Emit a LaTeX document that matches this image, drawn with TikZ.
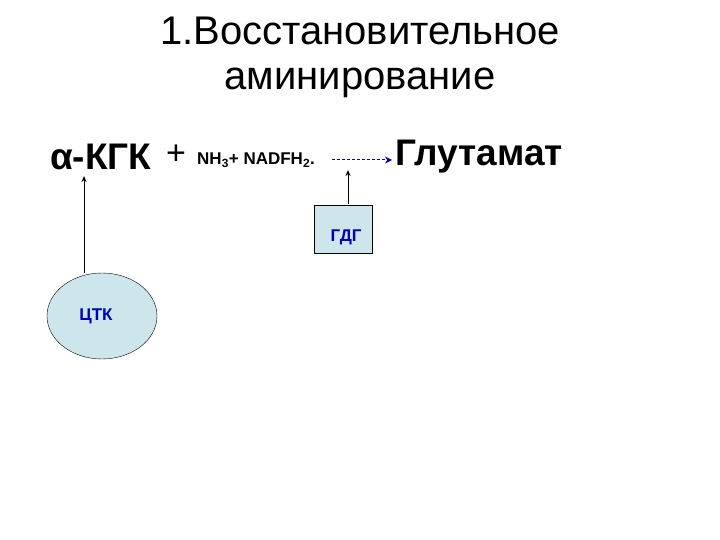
\documentclass[tikz,border=0pt]{standalone}
\usepackage{fontspec}
\setmainfont{Liberation Sans}
\usetikzlibrary{arrows.meta,shapes.geometric}
\definecolor{lb}{RGB}{204,230,236}
\definecolor{dblue}{RGB}{0,0,180}
\begin{document}
\begin{tikzpicture}[x=1pt,y=-1pt,
  big/.style={font=\fontsize{37}{40}\selectfont\bfseries,inner sep=0},
  lbl/.style={font=\fontsize{17}{19}\selectfont\bfseries,text=dblue},
  arr/.style={-{Stealth[length=6pt,width=5pt]},line width=1pt}]
\useasboundingbox (0,0) rectangle (720,540);
\node[font=\fontsize{40}{45}\selectfont,align=center] (t) at (360,57) {1.Восстановительное\\аминирование};
\node[big,anchor=west] (a) at (50,157) {α-КГК};
\node[font=\fontsize{34}{36}\selectfont,anchor=west,inner sep=0] (p) at (166,155) {+};
\node[font=\fontsize{17}{19}\selectfont\bfseries,anchor=west,inner sep=0] (n) at (197,160) {NH\textsubscript{3}+ NADFH\textsubscript{2}.};
\node[big,anchor=west] (g) at (395,157) {Глутамат};
\coordinate (d1) at (332,160);
\coordinate (d2) at (392,160);
\draw[dblue,densely dashed,line width=1pt,-{Stealth[length=7pt,width=7pt]}] (d1) -- (d2);
\node[draw,fill=lb,minimum width=58pt,minimum height=48pt] (gdg) at (343,229) {};
\node[lbl] (gl) at (346,237) {ГДГ};
\node[draw,fill=lb,ellipse,minimum width=110pt,minimum height=86pt] (ctk) at (102,316) {};
\node[lbl] (cl) at (96,316) {ЦТК};
\coordinate (c1) at (84,273);
\coordinate (c2) at (84,176);
\draw[arr] (c1) -- (c2);
\coordinate (g1) at (348,204);
\coordinate (g2) at (348,170);
\draw[arr] (g1) -- (g2);
\end{tikzpicture}
\end{document}
